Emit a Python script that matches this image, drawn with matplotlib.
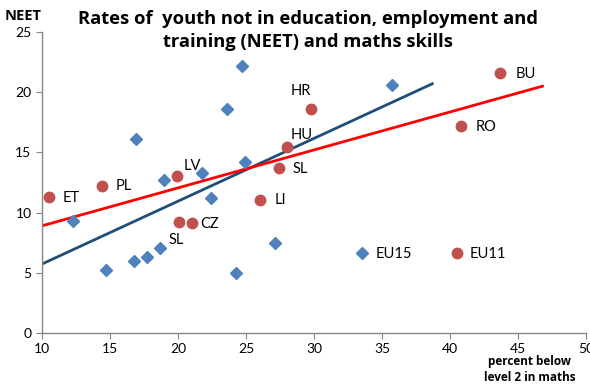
import matplotlib
matplotlib.use("Agg")
import matplotlib.pyplot as plt

plt.rcParams['font.family'] = ['Lato', 'DejaVu Sans']

# EU15 (blue diamonds)
eu15_x = [14.7, 12.3, 16.9, 16.8, 17.7, 18.7, 19.0, 21.8, 22.4, 23.6, 24.7, 24.9, 24.3, 27.1, 35.7]
eu15_y = [5.2, 9.3, 16.1, 6.0, 6.3, 7.1, 12.7, 13.3, 11.2, 18.6, 22.2, 14.2, 5.0, 7.45, 20.6]

# EU11 (red circles)
eu11_x = [10.5, 14.4, 19.9, 20.1, 21.0, 26.0, 27.4, 28.0, 29.8, 40.8, 43.7]
eu11_y = [11.3, 12.2, 13.0, 9.2, 9.1, 11.05, 13.7, 15.45, 18.6, 17.2, 21.6]

# country labels and their positions
labels = ['ET', 'PL', 'LV', 'CZ', 'SL', 'LI', 'SL', 'HU', 'HR', 'RO', 'BU']
label_x = [11.5, 15.4, 20.4, 21.6, 19.3, 27.1, 28.4, 28.3, 28.3, 41.9, 44.8]
label_y = [11.2, 12.2, 13.9, 9.05, 7.7, 11.05, 13.6, 16.45, 20.1, 17.1, 21.5]

# trend lines (endpoints)
trend15_x = [10.0, 38.7]
trend15_y = [5.73, 20.7]
trend11_x = [10.0, 46.8]
trend11_y = [8.9, 20.5]

blue = '#4F81BD'
red = '#C0504D'
navy = '#1F4E79'

fig = plt.figure(figsize=(5.9, 3.85), dpi=100)
ax = fig.add_axes([0.0712, 0.1351, 0.922, 0.7818])

ax.plot(trend15_x, trend15_y, color=navy, lw=2.0, zorder=2)
ax.plot(trend11_x, trend11_y, color='#FF0000', lw=2.0, zorder=2)
ax.plot(eu15_x, eu15_y, 'D', color=blue, ms=6.5, mec=blue, ls='none', zorder=3, label='EU15')
ax.plot(eu11_x, eu11_y, 'o', color=red, ms=7.5, mec=red, ls='none', zorder=3, label='EU11')

for t, x, y in zip(labels, label_x, label_y):
    ax.text(x, y, t, fontsize=10.5, va='center', ha='left', color='black')

ax.set_xlim(10, 50)
ax.set_ylim(0, 25)
ax.set_xticks(range(10, 51, 5))
ax.set_yticks(range(0, 26, 5))
for s in ['top', 'right']:
    ax.spines[s].set_visible(False)
for s in ['left', 'bottom']:
    ax.spines[s].set_color('#868686')
    ax.spines[s].set_linewidth(1.0)
ax.tick_params(axis='both', colors='#868686', labelcolor='black', labelsize=10, length=4, direction='out')

leg = ax.legend(loc='center left', bbox_to_anchor=(0.575, 0.2625), ncol=2, frameon=False,
                fontsize=10.5, handlelength=1.0, handletextpad=0.4, columnspacing=2.6,
                borderpad=0, borderaxespad=0)

fig.text(0.522, 0.921, 'Rates of  youth not in education, employment and\ntraining (NEET) and maths skills',
         ha='center', va='center', fontsize=13.2, fontweight='bold', linespacing=1.3,
         family=['Open Sans', 'DejaVu Sans'])
fig.text(0.008, 0.958, 'NEET', ha='left', va='center', fontsize=10.5, fontweight='bold',
         family=['Open Sans', 'DejaVu Sans'])
fig.text(0.898, 0.04, 'percent below\nlevel 2 in maths', ha='center', va='center', fontsize=8.5,
         fontweight='bold', linespacing=1.25, family=['Open Sans', 'DejaVu Sans'])

fig.savefig('out.png', dpi=100)
